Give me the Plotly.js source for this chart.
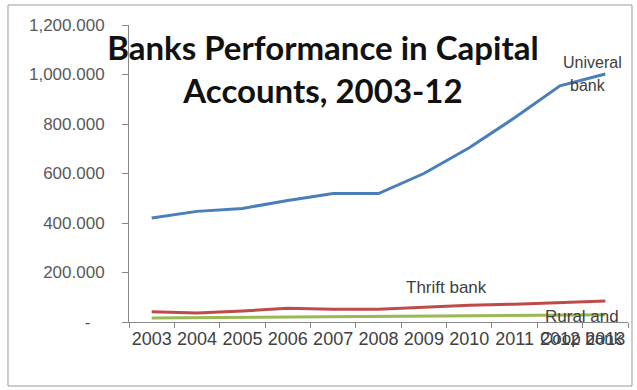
<!DOCTYPE html>
<html><head><meta charset="utf-8">
<script src="https://cdn.plot.ly/plotly-3.0.1.min.js"></script>
<style>html,body{margin:0;padding:0;background:#fff}#c{width:637px;height:390px}</style>
</head><body><div id="c"></div>
<script>
const years = ['2003','2004','2005','2006','2007','2008','2009','2010','2011','2012','2013'];
const universal = [420000, 447000, 459000, 491000, 519000, 519000, 600000, 704000, 825000, 954000, 1002000];
const thrift = [41000, 36000, 44000, 56000, 52000, 52000, 60000, 68000, 72000, 80000, 85000];
const rural = [16000, 17000, 19000, 20000, 21000, 22000, 24000, 25000, 26000, 28000, 29000];
const yTickVals = [0, 200000, 400000, 600000, 800000, 1000000, 1200000];
const yTickText = ['-\u00a0\u00a0\u00a0', '200.000', '400.000', '600.000', '800.000', '1,000.000', '1,200.000'];

const traces = [
  {x: years, y: universal, name: 'Univeral bank', mode: 'lines', line: {color: '#4a7ebb', width: 3}},
  {x: years, y: thrift, name: 'Thrift bank', mode: 'lines', line: {color: '#be4b48', width: 3}},
  {x: years, y: rural, name: 'Rural and Coop bank', mode: 'lines', line: {color: '#98b954', width: 3}}
];
const fam = 'Liberation Sans, Arial, sans-serif';
function ann(px, py, text, size) {
  return {xref: 'paper', yref: 'paper', x: (px - 129) / 499, y: (322 - py) / 297, xanchor: 'center', yanchor: 'middle',
          text: text, showarrow: false, font: {family: fam, size: size, color: '#404040'}};
}
const layout = {
  width: 637, height: 390,
  margin: {l: 129, r: 9, t: 25, b: 68},
  paper_bgcolor: '#fff', plot_bgcolor: '#fff',
  showlegend: false,
  title: {text: 'Banks Performance in Capital<br>Accounts, 2003-12', x: 0.507, xanchor: 'center', y: 0.845, yanchor: 'top',
          font: {family: 'Lato, sans-serif', size: 33, color: '#111', weight: 'bold'}},
  xaxis: {type: 'category', range: [-0.5, 10.5], showgrid: false, showline: true, linecolor: '#888', linewidth: 1,
          ticks: 'outside', tickson: 'boundaries', ticklen: 5, tickcolor: '#888',
          tickfont: {family: fam, size: 18, color: '#404040'}, tickangle: 0},
  yaxis: {range: [0, 1200000], showgrid: false, zeroline: false, showline: true, linecolor: '#888', linewidth: 1,
          ticks: 'outside', ticklen: 6, tickcolor: '#888', tickvals: yTickVals, ticktext: yTickText,
          ticklabelstandoff: 14,
          tickfont: {family: fam, size: 17, color: '#595959'}},
  shapes: [{type: 'rect', xref: 'paper', yref: 'paper', x0: -0.2425, x1: 1.008, y0: -0.2155, y1: 1.0673,
            line: {color: '#9a9a9a', width: 1}}],
  annotations: [
    ann(592, 62, 'Univeral', 16),
    ann(588, 86, 'bank', 16),
    ann(446, 287, 'Thrift bank', 17),
    ann(582, 316, 'Rural and', 17),
    ann(581, 338, 'Coop bank', 17)
  ]
};
Plotly.newPlot('c', traces, layout, {displayModeBar: false, staticPlot: true});
</script></body></html>
